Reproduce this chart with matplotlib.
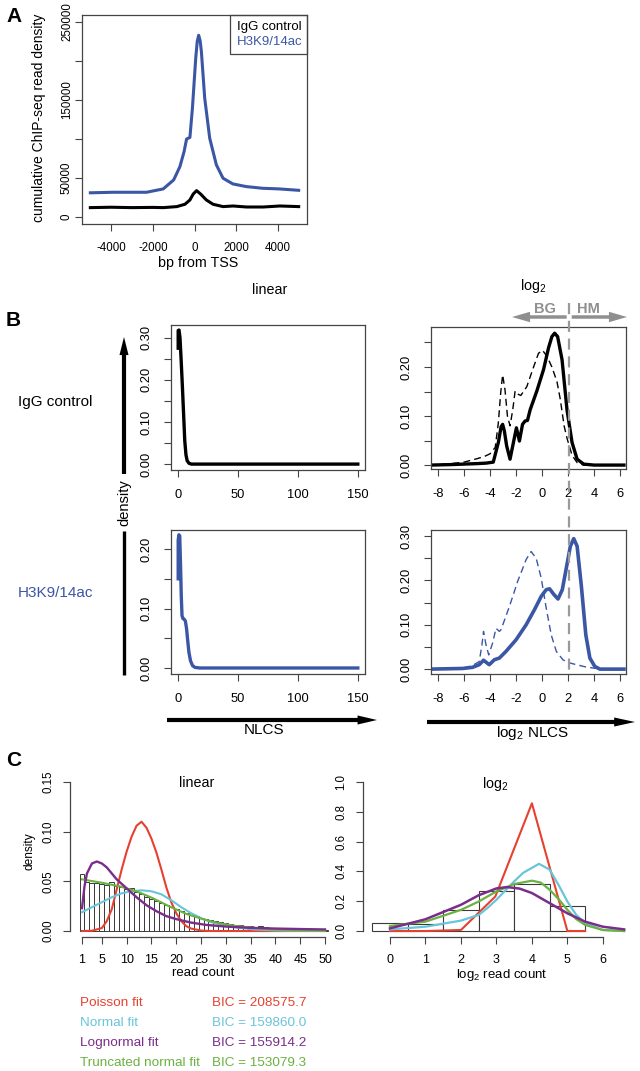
import matplotlib
matplotlib.use('Agg')
import matplotlib.pyplot as plt
from matplotlib.patches import Rectangle, FancyArrowPatch
from matplotlib.lines import Line2D

plt.rcParams['font.family'] = ['Liberation Sans', 'DejaVu Sans']
plt.rcParams['axes.unicode_minus'] = False
plt.rcParams['mathtext.fontset'] = 'custom'
plt.rcParams['mathtext.rm'] = 'Liberation Sans'
plt.rcParams['mathtext.it'] = 'Liberation Sans:italic'
plt.rcParams['mathtext.default'] = 'regular'

# ---------------- data ----------------
# Panel A: cumulative ChIP-seq read density around TSS
tss_bp_h3k = [-5000, -3900, -2300, -1500, -1000, -700, -500, -380, -300, -220, -100, 60, 130, 200, 270, 330, 490, 730, 1050, 1370, 1840, 2480, 3270, 4060, 5000]
h3k_profile = [31000, 31700, 31700, 36000, 47500, 64600, 83900, 100000, 101000, 102000, 139500, 203800, 225000, 233000, 226000, 212300, 152400, 101000, 66800, 49700, 42400, 39000, 36800, 36000, 34200]
tss_bp_igg = [-5000, -4000, -3000, -2000, -1500, -850, -460, -220, -60, 100, 290, 570, 890, 1370, 1850, 2500, 3300, 4100, 5000]
igg_profile = [12000, 12500, 12000, 12300, 12000, 13300, 16300, 21800, 29500, 33800, 29500, 21800, 16300, 13300, 14100, 12800, 12800, 14100, 13300]

# Panel B: NLCS densities
nlcs_igg_x = [0, 0, 0.7, 1.5, 2.5, 3.5, 4.5, 5.5, 6.5, 7.5, 9, 11, 150]
nlcs_igg_y = [0.275, 0.317, 0.318, 0.30, 0.245, 0.185, 0.12, 0.055, 0.022, 0.008, 0.002, 0, 0]
nlcs_h3k_x = [0, 0, 0.6, 1.3, 2.0, 2.6, 3.2, 4.0, 5.0, 6.0, 7.0, 8.0, 9.0, 10.3, 12, 14, 18, 150]
nlcs_h3k_y = [0.15, 0.215, 0.224, 0.222, 0.17, 0.12, 0.088, 0.083, 0.082, 0.079, 0.066, 0.045, 0.026, 0.012, 0.004, 0.001, 0, 0]

log_igg_x = [-8.6, -7, -6, -5, -4.3, -3.75, -3.36, -3.15, -3.03, -2.9, -2.72, -2.46, -2.2, -1.97, -1.74, -1.5, -1.3, -1.12, -0.91, -0.4, 0.12, 0.5, 0.76, 0.97, 1.2, 1.54, 1.92, 2.31, 2.7, 3.2, 4, 6.3]
log_igg_y = [0, 0.001, 0.002, 0.003, 0.004, 0.006, 0.046, 0.078, 0.083, 0.07, 0.039, 0.012, 0.046, 0.076, 0.049, 0.083, 0.09, 0.091, 0.113, 0.151, 0.195, 0.239, 0.262, 0.269, 0.262, 0.215, 0.113, 0.046, 0.012, 0.002, 0, 0]
log_igg_ref_x = [-8.6, -7, -6, -5, -4.4, -4, -3.6, -3.36, -3.18, -3.03, -2.85, -2.66, -2.46, -2.25, -2.07, -1.95, -1.81, -1.63, -1.17, -0.65, -0.27, 0.04, 0.38, 0.76, 1.15, 1.4, 1.7, 1.92, 2.31, 2.7, 3.2, 6.3]
log_igg_ref_y = [0, 0.003, 0.006, 0.013, 0.018, 0.023, 0.036, 0.086, 0.147, 0.184, 0.154, 0.1, 0.08, 0.113, 0.151, 0.147, 0.144, 0.142, 0.16, 0.2, 0.228, 0.234, 0.222, 0.2, 0.17, 0.135, 0.08, 0.055, 0.02, 0.005, 0, 0]

log_h3k_x = [-8.6, -6.1, -5.35, -4.83, -4.5, -4.06, -3.67, -3.28, -2.77, -2.0, -1.22, -0.58, -0.06, 0.32, 0.58, 0.89, 1.23, 1.56, 1.87, 2.18, 2.44, 2.7, 3.03, 3.37, 3.68, 4.06, 4.45, 6.3]
log_h3k_y = [0, 0.0015, 0.004, 0.01, 0.02, 0.01, 0.021, 0.025, 0.04, 0.066, 0.1, 0.134, 0.164, 0.179, 0.181, 0.169, 0.158, 0.179, 0.228, 0.277, 0.294, 0.277, 0.186, 0.077, 0.025, 0.006, 0.0, 0]
log_h3k_ref_x = [-8.6, -6.1, -5.35, -4.83, -4.62, -4.5, -4.31, -4.1, -3.8, -3.54, -3.28, -3.15, -2.51, -1.87, -1.22, -0.84, -0.45, -0.06, 0.32, 0.71, 1.1, 1.61, 2.0, 2.64, 3.42, 4.19, 6.3]
log_h3k_ref_y = [0, 0.002, 0.008, 0.017, 0.055, 0.085, 0.055, 0.032, 0.059, 0.092, 0.085, 0.089, 0.141, 0.198, 0.247, 0.265, 0.25, 0.205, 0.138, 0.077, 0.04, 0.021, 0.015, 0.01, 0.0045, 0.0015, 0]

# Panel C: read count histogram and fits (linear)
read_count = list(range(1, 51))
read_density = [0.057, 0.049, 0.048, 0.048, 0.047, 0.046, 0.049, 0.045, 0.044, 0.042,
                0.043, 0.039, 0.037, 0.034, 0.032, 0.030, 0.028, 0.026, 0.024, 0.022,
                0.020, 0.018, 0.016, 0.015, 0.013, 0.012, 0.011, 0.010, 0.009, 0.008,
                0.007, 0.0065, 0.006, 0.0055, 0.005, 0.0045, 0.005, 0.004, 0.0035, 0.003,
                0.003, 0.0025, 0.0025, 0.002, 0.002, 0.0018, 0.0015, 0.0015, 0.0012, 0.001]
pois_x = [1, 3, 5, 6, 7, 8, 9, 10, 11, 12, 13, 14, 15, 16, 17, 18, 19, 20, 21, 22, 23, 25, 27, 50]
pois_y = [0, 0.0003, 0.003, 0.01, 0.022, 0.042, 0.062, 0.08, 0.095, 0.106, 0.11, 0.104, 0.093, 0.079, 0.062, 0.044, 0.029, 0.018, 0.01, 0.005, 0.0025, 0.0005, 0, 0]
norm_x = [1, 3, 5, 7, 9, 11, 13, 15, 17, 19, 21, 23, 25, 27, 29, 31, 33, 36, 40, 45, 50]
norm_y = [0.019, 0.024, 0.029, 0.034, 0.038, 0.040, 0.041, 0.040, 0.037, 0.031, 0.024, 0.018, 0.013, 0.009, 0.0065, 0.0045, 0.003, 0.0015, 0.0006, 0.0002, 0]
lnorm_x = [1, 1.5, 2, 3, 4, 5, 6, 7, 8, 10, 12, 14, 16, 18, 20, 23, 26, 30, 35, 40, 45, 50]
lnorm_y = [0.023, 0.045, 0.058, 0.068, 0.070, 0.068, 0.064, 0.058, 0.052, 0.043, 0.034, 0.026, 0.020, 0.015, 0.012, 0.0085, 0.0062, 0.0045, 0.0032, 0.0025, 0.002, 0.0016]
tnorm_x = [1, 5, 8.6, 12, 15.3, 18.6, 22, 25.4, 28.7, 32, 35.4, 38.8, 45.5, 50]
tnorm_y = [0.052, 0.0486, 0.045, 0.040, 0.033, 0.0248, 0.0173, 0.0119, 0.0078, 0.0051, 0.0034, 0.0017, 0.0005, 0.0002]

# Panel C: log2 scale
log2_count = [0, 1, 2, 3, 4, 5]
log2_density = [0.056, 0.045, 0.14, 0.27, 0.313, 0.166]
lpois_x = [0, 1, 2, 2.97, 4, 5, 5.5]
lpois_y = [0, 0, 0.007, 0.232, 0.857, 0, 0]
lnormfit_x = [0, 1, 2, 2.5, 2.75, 3, 3.5, 3.75, 4, 4.2, 4.5, 4.75, 5, 5.25, 5.5, 6, 6.6]
lnormfit_y = [0.011, 0.029, 0.07, 0.108, 0.155, 0.21, 0.333, 0.39, 0.424, 0.451, 0.412, 0.31, 0.198, 0.108, 0.052, 0.007, 0]
llnorm_x = [0, 1, 2, 2.5, 3, 3.3, 3.65, 4, 4.5, 5, 5.5, 6, 6.6]
llnorm_y = [0.018, 0.079, 0.176, 0.24, 0.286, 0.295, 0.285, 0.255, 0.187, 0.119, 0.063, 0.029, 0.011]
ltnorm_x = [0, 1, 2, 2.5, 3, 3.5, 4, 4.25, 4.5, 4.75, 5, 5.25, 5.5, 6, 6.6]
ltnorm_y = [0.034, 0.063, 0.142, 0.198, 0.266, 0.315, 0.338, 0.325, 0.277, 0.215, 0.142, 0.08, 0.041, 0.007, 0]

fit_names = ['Poisson fit', 'Normal fit', 'Lognormal fit', 'Truncated normal fit']
fit_bic = ['BIC = 208575.7', 'BIC = 159860.0', 'BIC = 155914.2', 'BIC = 153079.3']

# ---------------- style ----------------
BLUE = '#3B56A5'
RED = '#E6412F'
CYAN = '#6AC4DA'
PURPLE = '#7B2D8C'
GREEN = '#6BB240'
GRAY = '#8f8f8f'
SPINE = '#444444'
fit_colors = [RED, CYAN, PURPLE, GREEN]

W, H = 640, 1071
fig = plt.figure(figsize=(6.4, 10.71), dpi=100)


def fx(x):
    return x / W


def fy(y):
    return 1 - y / H


def axpx(l, t, r, b):
    return fig.add_axes([l / W, 1 - b / H, (r - l) / W, (b - t) / H])


def rstyle(ax, fs, xpad, ypad, box=True):
    for s in ax.spines.values():
        s.set_color(SPINE)
        s.set_linewidth(0.9)
    if not box:
        ax.spines['top'].set_visible(False)
        ax.spines['right'].set_visible(False)
    ax.tick_params(direction='out', length=5, width=0.8, color=SPINE, labelsize=fs)
    ax.tick_params(axis='x', pad=xpad)
    ax.tick_params(axis='y', pad=ypad)


def yticks_rot(ax, ticks, labels):
    ax.set_yticks(ticks)
    ax.set_yticklabels(labels, rotation=90, va='center')


def arrow(p0, p1, color, tail, hw, hl):
    a = FancyArrowPatch((fx(p0[0]), fy(p0[1])), (fx(p1[0]), fy(p1[1])),
                        transform=fig.transFigure,
                        arrowstyle='simple,head_length=%g,head_width=%g,tail_width=%g' % (hl, hw, tail),
                        mutation_scale=10, color=color, lw=0, shrinkA=0, shrinkB=0)
    fig.add_artist(a)


# ---------------- Panel A ----------------
fig.text(fx(6), fy(16), 'A', fontsize=15, fontweight='bold', va='center')
axA = axpx(82, 15, 307, 224)
axA.plot(tss_bp_h3k, h3k_profile, color=BLUE, lw=2.2)
axA.plot(tss_bp_igg, igg_profile, color='black', lw=2.2)
axA.set_xlim(-5400, 5400)
axA.set_ylim(-9000, 259000)
rstyle(axA, 8.3, 8, 1.5)
axA.set_xticks([-4000, -2000, 0, 2000, 4000])
yticks_rot(axA, [0, 50000, 100000, 150000, 200000, 250000],
           ['0', '50000', '', '150000', '', '250000'])
fig.text(fx(39), fy(118), 'cumulative ChIP-seq read density', rotation=90,
         ha='center', va='center', fontsize=10)
fig.text(fx(198), fy(263), 'bp from TSS', ha='center', va='center', fontsize=10.3)
fig.add_artist(Rectangle((fx(230), fy(54)), (307 - 230) / W, (54 - 15) / H,
                         transform=fig.transFigure, fill=False, edgecolor=SPINE, lw=0.9))
fig.text(fx(237), fy(27), 'IgG control', fontsize=9.5, va='center')
fig.text(fx(237), fy(42), 'H3K9/14ac', fontsize=9.5, va='center', color=BLUE)

# ---------------- Panel B ----------------
fig.text(fx(6), fy(321), 'B', fontsize=15, fontweight='bold', va='center')
fig.text(fx(270), fy(290), 'linear', fontsize=10.3, ha='center', va='center')
fig.text(fx(533), fy(286), r'log$_2$', fontsize=10.3, ha='center', va='center')

fig.text(fx(18), fy(402), 'IgG control', fontsize=11, va='center')
fig.text(fx(18), fy(593), 'H3K9/14ac', fontsize=11, va='center', color=BLUE)

# top-left
axB1 = axpx(171, 325, 365, 470)
axB1.plot(nlcs_igg_x, nlcs_igg_y, color='black', lw=2.4)
axB1.set_xlim(-6, 156)
axB1.set_ylim(-0.014, 0.33)
rstyle(axB1, 9.3, 9, 8)
axB1.set_xticks([0, 50, 100, 150])
yticks_rot(axB1, [0, 0.05, 0.1, 0.15, 0.2, 0.25, 0.3],
           ['0.00', '', '0.10', '', '0.20', '', '0.30'])

# bottom-left
axB3 = axpx(171, 530, 365, 674)
axB3.plot(nlcs_h3k_x, nlcs_h3k_y, color=BLUE, lw=2.4)
axB3.set_xlim(-6, 156)
axB3.set_ylim(-0.0101, 0.232)
rstyle(axB3, 9.3, 9, 8)
axB3.set_xticks([0, 50, 100, 150])
yticks_rot(axB3, [0, 0.05, 0.1, 0.15, 0.2],
           ['0.00', '', '0.10', '', '0.20'])

# top-right
axB2 = axpx(431, 327, 626, 469)
axB2.plot(log_igg_ref_x, log_igg_ref_y, color='black', lw=1.0, ls=(0, (5, 3)))
axB2.plot(log_igg_x, log_igg_y, color='black', lw=2.4)
axB2.set_xlim(-8.54, 6.46)
axB2.set_ylim(-0.008, 0.2816)
rstyle(axB2, 9.3, 9, 8)
axB2.set_xticks([-8, -6, -4, -2, 0, 2, 4, 6])
yticks_rot(axB2, [0, 0.05, 0.1, 0.15, 0.2, 0.25],
           ['0.00', '', '0.10', '', '0.20', ''])

# bottom-right
axB4 = axpx(431, 530, 626, 674)
axB4.plot(log_h3k_ref_x, log_h3k_ref_y, color=BLUE, lw=1.0, ls=(0, (5, 3)))
axB4.plot(log_h3k_x, log_h3k_y, color=BLUE, lw=2.6)
axB4.set_xlim(-8.54, 6.46)
axB4.set_ylim(-0.011, 0.3135)
rstyle(axB4, 9.3, 9, 8)
axB4.set_xticks([-8, -6, -4, -2, 0, 2, 4, 6])
yticks_rot(axB4, [0, 0.05, 0.1, 0.15, 0.2, 0.25, 0.3],
           ['0.00', '', '0.10', '', '0.20', '', '0.30'])

# threshold line (BG / HM) at log2 NLCS = 2.05
thr = 2.05
x0, x1 = axB4.get_xlim()
pos = axB4.get_position()
thr_fx = pos.x0 + (thr - x0) / (x1 - x0) * pos.width
fig.add_artist(Line2D([thr_fx, thr_fx], [fy(303), fy(670)], transform=fig.transFigure,
                      color='#9a9a9a', lw=1.6, ls=(0, (5, 3))))
thr_px = thr_fx * W
arrow((thr_px - 2, 317), (512, 317), GRAY, 0.25, 0.75, 1.3)
arrow((thr_px + 3, 317), (627, 317), GRAY, 0.25, 0.75, 1.3)
fig.text(fx(545), fy(309), 'BG', fontsize=10.5, fontweight='bold', color=GRAY, ha='center', va='center')
fig.text(fx(588), fy(309), 'HM', fontsize=10.5, fontweight='bold', color=GRAY, ha='center', va='center')

# density arrow
fig.add_artist(Line2D([fx(124), fx(124)], [fy(675), fy(531)], transform=fig.transFigure,
                      color='black', lw=2.4, solid_capstyle='butt'))
arrow((124, 474), (124, 337), 'black', 0.3, 0.65, 1.3)
fig.text(fx(124), fy(503), 'density', rotation=90, fontsize=10.5, ha='center', va='center')

# NLCS arrows
arrow((167, 720), (377, 720), 'black', 0.3, 0.65, 1.4)
fig.text(fx(264), fy(730), 'NLCS', fontsize=11, ha='center', va='center')
arrow((427, 722), (635, 722), 'black', 0.3, 0.65, 1.5)
fig.text(fx(532), fy(733), r'log$_2$ NLCS', fontsize=11, ha='center', va='center')

# ---------------- Panel C ----------------
fig.text(fx(6), fy(761), 'C', fontsize=15, fontweight='bold', va='center')
fig.text(fx(197), fy(783), 'linear', fontsize=10.3, ha='center', va='center')
fig.text(fx(495), fy(784), r'log$_2$', fontsize=10.3, ha='center', va='center')

axC1 = axpx(70, 782, 330, 937)
axC1.bar(read_count, read_density, width=1.0, color='white', edgecolor='#3a3a3a', lw=0.7)
axC1.plot(pois_x, pois_y, color=RED, lw=1.5)
axC1.plot(norm_x, norm_y, color=CYAN, lw=1.5)
axC1.plot(tnorm_x, tnorm_y, color=GREEN, lw=1.5)
axC1.plot(lnorm_x, lnorm_y, color=PURPLE, lw=1.7)
axC1.set_xlim(-1.42, 51)
axC1.set_ylim(-0.006, 0.15)
rstyle(axC1, 8.3, 7, 6.5, box=False)
axC1.spines['left'].set_bounds(0, 0.15)
axC1.spines['bottom'].set_bounds(1, 50)
axC1.set_xticks([1, 5, 10, 15, 20, 25, 30, 35, 40, 45, 50])
axC1.tick_params(axis='x', labelsize=9)
yticks_rot(axC1, [0, 0.05, 0.1, 0.15], ['0.00', '0.05', '0.10', '0.15'])
fig.text(fx(203), fy(973), 'read count', fontsize=9.5, ha='center', va='center')
fig.text(fx(30), fy(851), 'density', fontsize=8.6, rotation=90, ha='center', va='center')

axC2 = axpx(363, 782, 627, 937)
axC2.bar(log2_count, log2_density, width=1.0, color='white', edgecolor='#3a3a3a', lw=0.8)
axC2.plot(lpois_x, lpois_y, color=RED, lw=1.5)
axC2.plot(lnormfit_x, lnormfit_y, color=CYAN, lw=1.6)
axC2.plot(ltnorm_x, ltnorm_y, color=GREEN, lw=1.6)
axC2.plot(llnorm_x, llnorm_y, color=PURPLE, lw=1.8)
axC2.set_xlim(-0.76, 6.68)
axC2.set_ylim(-0.04, 1.0)
rstyle(axC2, 8.3, 7, 6.5, box=False)
axC2.spines['left'].set_bounds(0, 1.0)
axC2.spines['bottom'].set_bounds(0, 6)
axC2.set_xticks([0, 1, 2, 3, 4, 5, 6])
axC2.tick_params(axis='x', labelsize=9)
yticks_rot(axC2, [0, 0.2, 0.4, 0.6, 0.8, 1.0], ['0.0', '0.2', '0.4', '0.6', '0.8', '1.0'])
fig.text(fx(502), fy(975), r'log$_2$ read count', fontsize=9.5, ha='center', va='center')

# fit legend text
row_y = [1003, 1023, 1043, 1063]
for name, bic, col, yy in zip(fit_names, fit_bic, fit_colors, row_y):
    fig.text(fx(80), fy(yy), name, fontsize=9.7, color=col, va='center')
    fig.text(fx(212), fy(yy), bic, fontsize=9.7, color=col, va='center')

fig.savefig('out.png', dpi=100)
